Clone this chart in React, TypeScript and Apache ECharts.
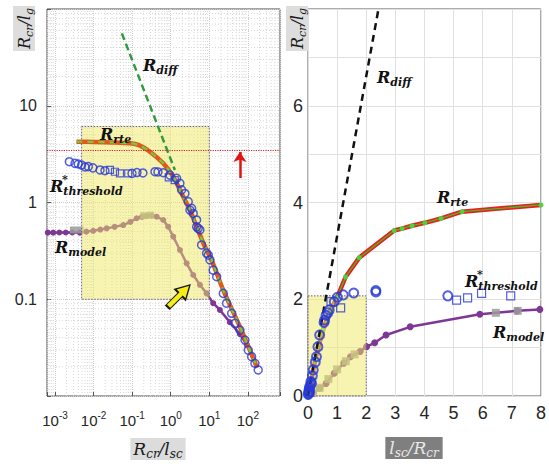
import { useEffect, useRef } from 'react';
import * as echarts from 'echarts';

// ---------- Left panel (log-log): x = R_cr / l_sc, y = R_cr / l_g ----------
const leftXRange = [6.2e-4, 680];
const leftYRange = [0.01, 100];

const leftRte = [
  [0.0036, 4.25], [0.01, 4.23], [0.03, 4.18], [0.088, 4.09], [0.15, 3.92], [0.289, 3.35],
  [0.64, 2.54], [1.16, 1.85], [1.91, 1.24], [3.14, 0.836], [4.69, 0.562], [7.7, 0.349],
  [11.5, 0.254], [23, 0.124], [62, 0.052], [175, 0.0195],
];
const leftDiff = [[0.054, 56], [1.28, 2.17]];
const leftModel = [
  [0.00065, 0.488], [0.0009, 0.488], [0.0013, 0.49], [0.0019, 0.49], [0.0028, 0.49], [0.0044, 0.488],
  [0.0065, 0.5], [0.0098, 0.51], [0.015, 0.525], [0.0218, 0.54], [0.035, 0.56], [0.0587, 0.585],
  [0.09, 0.63], [0.131, 0.687], [0.18, 0.71], [0.238, 0.725], [0.32, 0.73], [0.43, 0.713],
  [0.64, 0.659], [0.86, 0.562], [1.16, 0.444], [1.73, 0.323], [2.58, 0.235], [3.83, 0.178],
  [5.7, 0.141], [8.5, 0.115], [12.6, 0.091], [18.8, 0.0775], [34, 0.058], [62, 0.0437], [94, 0.0336],
];
const leftModelGray = [[0.003, 0.52], [0.0045, 0.52], [0.2, 0.73], [0.3, 0.74]];
const leftThresholdCircles = [
  [0.00235, 2.64], [0.0033, 2.54], [0.004, 2.5], [0.0049, 2.44], [0.006, 2.33], [0.0073, 2.35],
  [0.0096, 2.28], [0.0147, 2.17], [0.0197, 2.13], [0.099, 2.0], [0.133, 2.04], [0.19, 2.02],
  [0.39, 2.08], [0.466, 2.07], [0.64, 2.03], [0.95, 1.92], [1.42, 1.78], [1.73, 1.58], [1.91, 1.35],
  [2.33, 1.24], [2.84, 1.02], [3.14, 0.836], [3.48, 0.87], [3.83, 0.77], [4.69, 0.66], [4.69, 0.56],
  [5.15, 0.54], [5.7, 0.52], [6.3, 0.364], [8.5, 0.3], [9.4, 0.286], [10.4, 0.255], [12.6, 0.2],
  [15.5, 0.171], [23, 0.115], [28, 0.091], [38, 0.0716], [46, 0.0564], [62, 0.048], [84, 0.0379],
  [102, 0.0298], [125, 0.0255], [152, 0.0218], [185, 0.0186],
];
const leftThresholdSquares = [[0.0266, 2.17], [0.0358, 2.08], [0.0483, 2.0], [0.079, 2.0], [0.89, 1.82], [1.27, 1.7]];
const leftBox = [[0.0049, 0.1, 10, 6.1]];
const leftRedLevel = 3.43;
const leftRedArrow = [[62, 1.79], [62, 3.33]];
const leftYellowArrow = [1.63, 0.108];

// ---------- Right panel (linear): x = l_sc / R_cr, y = R_cr / l_g ----------
const rightRte = [
  [0, 0], [0.1, 0.3], [0.25, 0.75], [0.51, 1.36], [0.75, 1.75], [1.01, 2.05], [1.29, 2.46],
  [1.76, 2.86], [2.96, 3.42], [3.23, 3.46], [3.57, 3.52], [4.01, 3.58], [4.57, 3.67], [5.29, 3.81], [8, 3.95],
];
const rightDiff = [[0, 0], [2.42, 8]];
const rightModel = [
  [0, 0], [0.18, 0.055], [0.4, 0.16], [0.62, 0.26], [0.9, 0.47], [1.23, 0.68], [1.46, 0.81],
  [1.79, 0.92], [2.01, 1.02], [2.29, 1.1], [2.68, 1.26], [3.51, 1.43], [5.9, 1.69], [7.18, 1.76], [7.96, 1.79],
];
const rightModelGray = [[0.15, 0.07], [0.4, 0.17], [0.7, 0.35], [1.0, 0.55], [1.3, 0.72], [1.6, 0.86], [6.45, 1.72], [7.2, 1.76]];
const rightThresholdCircles = [
  [0.01, 0.03], [0.02, 0.06], [0.03, 0.1], [0.04, 0.14], [0.05, 0.18], [0.06, 0.08], [0.08, 0.22],
  [0.1, 0.3], [0.12, 0.26], [0.15, 0.42], [0.18, 0.54], [0.25, 0.7], [0.29, 0.81], [0.34, 1.02],
  [0.4, 1.26], [0.55, 1.52], [0.57, 1.57], [0.62, 1.67], [0.68, 1.72], [0.73, 1.78], [0.9, 1.95],
  [1.01, 2.04], [1.21, 2.09], [1.57, 2.13], [2.33, 2.18], [2.33, 2.15], [4.8, 2.07],
];
const rightThresholdSquares = [[0.79, 1.95], [1.12, 1.82], [5.1, 1.98], [5.48, 2.03], [5.96, 2.12], [6.96, 2.07]];
const rightBox = [[0, 0, 2, 2.07]];

// minor log grid positions (2..9 per decade)
const leftMinorX: number[] = [];
for (let e = -4; e <= 2; e++) for (let k = 2; k <= 9; k++) {
  const v = k * Math.pow(10, e);
  if (v > leftXRange[0] && v < leftXRange[1]) leftMinorX.push(v);
}
const leftMinorY: number[] = [];
for (let e = -2; e <= 1; e++) for (let k = 2; k <= 9; k++) leftMinorY.push(k * Math.pow(10, e));

const BLUE = '#2838d8';
const PURPLE = '#7e3794';
const TICK_FONT = 'Liberation Sans';

const labelRich = {
  m: { fontSize: 16, fontWeight: 'bold', fontStyle: 'italic', fontFamily: 'DejaVu Serif', fill: '#111', lineHeight: 22, verticalAlign: 'middle' },
  s: { fontSize: 11, fontWeight: 'bold', fontStyle: 'italic', fontFamily: 'DejaVu Serif', fill: '#111', lineHeight: 10, verticalAlign: 'bottom' },
};
const titleRich = (c: string, big = 17, small = 12) => ({
  m: { fontSize: big, fontStyle: 'italic', fontFamily: 'DejaVu Serif', fill: c, lineHeight: 22, verticalAlign: 'middle' },
  s: { fontSize: small, fontStyle: 'italic', fontFamily: 'DejaVu Serif', fill: c, lineHeight: 11, verticalAlign: 'bottom' },
});

function mathLabel(x: number, y: number, sub: string, star = false): any[] {
  const els: any[] = [{
    type: 'text', x, y, silent: true, z: 100,
    style: { text: `{m|R}{s|${sub}}`, rich: labelRich, align: 'left', textAlign: 'left', verticalAlign: 'middle', textVerticalAlign: 'middle' },
  }];
  if (star) {
    els.push({
      type: 'text', x: x + 12, y: y - 7, silent: true, z: 100,
      style: { text: '*', font: 'bold 11px "DejaVu Serif"', fill: '#111', align: 'left', textAlign: 'left', verticalAlign: 'middle', textVerticalAlign: 'middle' },
    });
  }
  return els;
}

function boxRender(params: any, api: any) {
  const p0 = api.coord([api.value(0), api.value(1)]);
  const p1 = api.coord([api.value(2), api.value(3)]);
  return {
    type: 'rect',
    shape: { x: Math.min(p0[0], p1[0]), y: Math.min(p0[1], p1[1]), width: Math.abs(p1[0] - p0[0]), height: Math.abs(p1[1] - p0[1]) },
    style: { fill: 'rgba(240,232,100,0.5)', stroke: '#6d5f8c', lineWidth: 1, lineDash: [1.5, 1.5] },
  };
}

const minorStyle = { stroke: '#d6d6d6', lineWidth: 1, lineDash: [1, 2] };

export default function App() {
  const ref = useRef<HTMLDivElement>(null);
  useEffect(() => {
    const chart = echarts.init(ref.current!, null, { renderer: 'svg' });
    const option: any = {
      animation: false,
      backgroundColor: '#fff',
      grid: [
        { left: 47, top: 9, width: 233, height: 387, show: true, borderColor: '#4a4a4a', borderWidth: 1, backgroundColor: 'transparent' },
        { left: 308, top: 9, width: 240, height: 387, show: true, borderColor: '#5a5a5a', borderWidth: 1, backgroundColor: 'transparent' },
      ],
      xAxis: [
        {
          type: 'log', logBase: 10, gridIndex: 0, min: leftXRange[0], max: leftXRange[1],
          axisLine: { show: false },
          axisTick: { show: true, inside: true, length: 4, lineStyle: { color: '#555' } },
          axisLabel: {
            margin: 14,
            formatter: (v: number) => {
              const l = Math.log10(v); const r = Math.round(l);
              if (Math.abs(l - r) > 1e-6) return '';
              return `{b|10}{p|${r}}`;
            },
            rich: {
              b: { fontSize: 15, fontFamily: TICK_FONT, color: '#262626', lineHeight: 20, verticalAlign: 'middle' },
              p: { fontSize: 10, fontFamily: TICK_FONT, color: '#262626', lineHeight: 10, verticalAlign: 'top' },
            },
          },
          splitLine: { show: true, lineStyle: { color: '#cdcdcd', type: 'dotted' } },
        },
        {
          type: 'value', gridIndex: 1, min: 0, max: 8, interval: 1,
          axisLine: { show: false }, axisTick: { show: false },
          axisLabel: { fontSize: 18, fontFamily: TICK_FONT, color: '#262626', margin: 8 },
          splitLine: { show: true, lineStyle: { color: '#e0e0e0', type: 'solid' } },
        },
      ],
      yAxis: [
        {
          type: 'log', logBase: 10, gridIndex: 0, min: leftYRange[0], max: leftYRange[1],
          axisLine: { show: false },
          axisTick: { show: true, inside: true, length: 4, lineStyle: { color: '#555' } },
          axisLabel: {
            margin: 10, fontSize: 16, fontFamily: TICK_FONT, color: '#262626',
            formatter: (v: number) => {
              const l = Math.log10(v); const r = Math.round(l);
              if (Math.abs(l - r) > 1e-6 || r < -1 || r > 1) return '';
              return r >= 0 ? String(Math.pow(10, r)) : '0.1';
            },
          },
          splitLine: { show: true, lineStyle: { color: '#cdcdcd', type: 'dotted' } },
        },
        {
          type: 'value', gridIndex: 1, min: 0, max: 8, interval: 1,
          axisLine: { show: false }, axisTick: { show: false },
          axisLabel: {
            fontSize: 18, fontFamily: TICK_FONT, color: '#262626', margin: 5,
            formatter: (v: number) => (v % 2 === 0 && v < 8 ? String(v) : ''),
          },
          splitLine: { show: true, lineStyle: { color: '#e0e0e0', type: 'solid' } },
        },
      ],
      series: [
        // left minor grid
        {
          type: 'custom', xAxisIndex: 0, yAxisIndex: 0, z: 1, silent: true,
          data: leftMinorX.map((v) => [v, 1]),
          renderItem: (p: any, api: any) => {
            const a = api.coord([api.value(0), leftYRange[0]]);
            const b = api.coord([api.value(0), leftYRange[1]]);
            return { type: 'line', shape: { x1: a[0], y1: a[1], x2: b[0], y2: b[1] }, style: minorStyle };
          },
        },
        {
          type: 'custom', xAxisIndex: 0, yAxisIndex: 0, z: 1, silent: true,
          data: leftMinorY.map((v) => [1, v]),
          renderItem: (p: any, api: any) => {
            const a = api.coord([leftXRange[0], api.value(1)]);
            const b = api.coord([leftXRange[1], api.value(1)]);
            return { type: 'line', shape: { x1: a[0], y1: a[1], x2: b[0], y2: b[1] }, style: minorStyle };
          },
        },
        // left R_model
        {
          type: 'line', xAxisIndex: 0, yAxisIndex: 0, z: 2, data: leftModel,
          lineStyle: { color: PURPLE, width: 2.5 }, symbol: 'circle', symbolSize: 6, itemStyle: { color: PURPLE },
        },
        {
          type: 'scatter', xAxisIndex: 0, yAxisIndex: 0, z: 2, data: leftModelGray,
          symbol: 'rect', symbolSize: 7, itemStyle: { color: '#9b9b9b', opacity: 0.85 },
        },
        // left yellow box
        {
          type: 'custom', xAxisIndex: 0, yAxisIndex: 0, z: 3, silent: true, data: leftBox,
          encode: { x: [0, 2], y: [1, 3] }, renderItem: boxRender,
        },
        // left R_rte
        {
          type: 'line', xAxisIndex: 0, yAxisIndex: 0, z: 4, data: leftRte, smooth: 0.3, showSymbol: false,
          lineStyle: { color: '#e4561c', width: 4.5 },
        },
        {
          type: 'line', xAxisIndex: 0, yAxisIndex: 0, z: 4, data: leftRte, smooth: 0.3, showSymbol: false,
          lineStyle: { color: '#66d23c', width: 2.2, type: [6, 5] },
        },
        // left R_diff
        {
          type: 'line', xAxisIndex: 0, yAxisIndex: 0, z: 4, data: leftDiff, showSymbol: false,
          lineStyle: { color: '#2f9a3f', width: 2.5, type: [7, 4] },
        },
        // left R*_threshold
        {
          type: 'scatter', xAxisIndex: 0, yAxisIndex: 0, z: 5, data: leftThresholdCircles,
          symbol: 'circle', symbolSize: 8, itemStyle: { color: 'rgba(0,0,0,0)', borderColor: BLUE, borderWidth: 1.5 },
        },
        {
          type: 'scatter', xAxisIndex: 0, yAxisIndex: 0, z: 5, data: leftThresholdSquares,
          symbol: 'rect', symbolSize: 7, itemStyle: { color: 'rgba(0,0,0,0)', borderColor: BLUE, borderWidth: 1.2 },
        },
        // left annotations
        {
          type: 'line', xAxisIndex: 0, yAxisIndex: 0, z: 5, data: [],
          markLine: {
            silent: true, symbol: ['none', 'none'], label: { show: false },
            data: [
              { yAxis: leftRedLevel, lineStyle: { color: '#e02020', type: 'dotted', width: 1.2 } },
              [
                { coord: leftRedArrow[0], symbol: 'none', lineStyle: { color: '#e01515', type: 'solid', width: 2.5 } },
                { coord: leftRedArrow[1], symbol: 'arrow', symbolSize: 10, lineStyle: { color: '#e01515', type: 'solid', width: 2.5 } },
              ],
            ],
          },
          markPoint: {
            silent: true,
            data: [{
              coord: leftYellowArrow,
              symbol: 'path://M8,0 L16,13 L11,13 L11,30 L5,30 L5,13 L0,13 Z',
              symbolSize: [15, 31], symbolRotate: -45,
              itemStyle: { color: '#f7ef14', borderColor: '#1a1a1a', borderWidth: 1.5 },
              label: { show: false },
            }],
          },
        },
        // right R_model
        {
          type: 'line', xAxisIndex: 1, yAxisIndex: 1, z: 2, data: rightModel,
          lineStyle: { color: PURPLE, width: 2.5 }, symbol: 'circle', symbolSize: 7, itemStyle: { color: PURPLE },
        },
        {
          type: 'scatter', xAxisIndex: 1, yAxisIndex: 1, z: 2, data: rightModelGray,
          symbol: 'rect', symbolSize: 8, itemStyle: { color: '#9b9b9b', opacity: 0.85 },
        },
        // right R_rte
        {
          type: 'line', xAxisIndex: 1, yAxisIndex: 1, z: 2, data: rightRte, showSymbol: false,
          lineStyle: { color: '#ee1c1c', width: 4.5 },
        },
        {
          type: 'line', xAxisIndex: 1, yAxisIndex: 1, z: 2, data: rightRte, symbol: 'circle', symbolSize: 5,
          lineStyle: { color: '#3cbf2a', width: 1.3 }, itemStyle: { color: '#4cd23a' },
        },
        // right yellow box
        {
          type: 'custom', xAxisIndex: 1, yAxisIndex: 1, z: 3, silent: true, data: rightBox,
          encode: { x: [0, 2], y: [1, 3] }, renderItem: boxRender,
        },
        // right R_diff
        {
          type: 'line', xAxisIndex: 1, yAxisIndex: 1, z: 4, data: rightDiff, showSymbol: false,
          lineStyle: { color: '#111', width: 2.5, type: [7, 5] },
        },
        // right R*_threshold
        {
          type: 'scatter', xAxisIndex: 1, yAxisIndex: 1, z: 4, data: rightThresholdCircles,
          symbol: 'circle', symbolSize: 9, itemStyle: { color: 'rgba(0,0,0,0)', borderColor: BLUE, borderWidth: 2 },
        },
        {
          type: 'scatter', xAxisIndex: 1, yAxisIndex: 1, z: 4, data: rightThresholdSquares,
          symbol: 'rect', symbolSize: 8, itemStyle: { color: 'rgba(0,0,0,0)', borderColor: BLUE, borderWidth: 1.2 },
        },
      ],
      graphic: [
        ...mathLabel(143, 65, 'diff'),
        ...mathLabel(100, 134, 'rte'),
        ...mathLabel(50, 186, 'threshold', true),
        ...mathLabel(55, 247, 'model'),
        ...mathLabel(377, 77, 'diff'),
        ...mathLabel(437, 197, 'rte'),
        ...mathLabel(465, 281, 'threshold', true),
        ...mathLabel(493, 332, 'model'),
        {
          type: 'text', x: 35, y: 51, rotation: Math.PI / 2, silent: true, z: 100,
          style: { text: '{m|R}{s|cr}{m|/}{m|l}{s|g}', rich: titleRich('#1a1a1a', 16, 11), backgroundColor: '#dddddd', padding: [0, 2, 0, 2], align: 'left', textAlign: 'left', verticalAlign: 'bottom', textVerticalAlign: 'bottom' },
        },
        {
          type: 'text', x: 308, y: 51, rotation: Math.PI / 2, silent: true, z: 100,
          style: { text: '{m|R}{s|cr}{m|/}{m|l}{s|g}', rich: titleRich('#1a1a1a', 16, 11), backgroundColor: '#dddddd', padding: [0, 2, 0, 2], align: 'left', textAlign: 'left', verticalAlign: 'bottom', textVerticalAlign: 'bottom' },
        },
        {
          type: 'text', x: 158, y: 449, silent: true, z: 100,
          style: { text: '{m|R}{s|cr}{m|/}{m|l}{s|sc}', rich: titleRich('#1a1a1a'), backgroundColor: '#dcdcdc', padding: [0, 3, 0, 3], align: 'center', textAlign: 'center', verticalAlign: 'middle', textVerticalAlign: 'middle' },
        },
        {
          type: 'text', x: 414, y: 448, silent: true, z: 100,
          style: { text: '{m|l}{s|sc}{m|/}{m|R}{s|cr}', rich: titleRich('#e8e8e8'), backgroundColor: '#7f7f7f', padding: [0, 4, 0, 4], align: 'center', textAlign: 'center', verticalAlign: 'middle', textVerticalAlign: 'middle' },
        },
      ],
    };
    chart.setOption(option);
    return () => chart.dispose();
  }, []);
  return <div ref={ref} style={{ position: 'absolute', left: 0, top: 0, width: 549, height: 469, background: '#fff' }} />;
}
